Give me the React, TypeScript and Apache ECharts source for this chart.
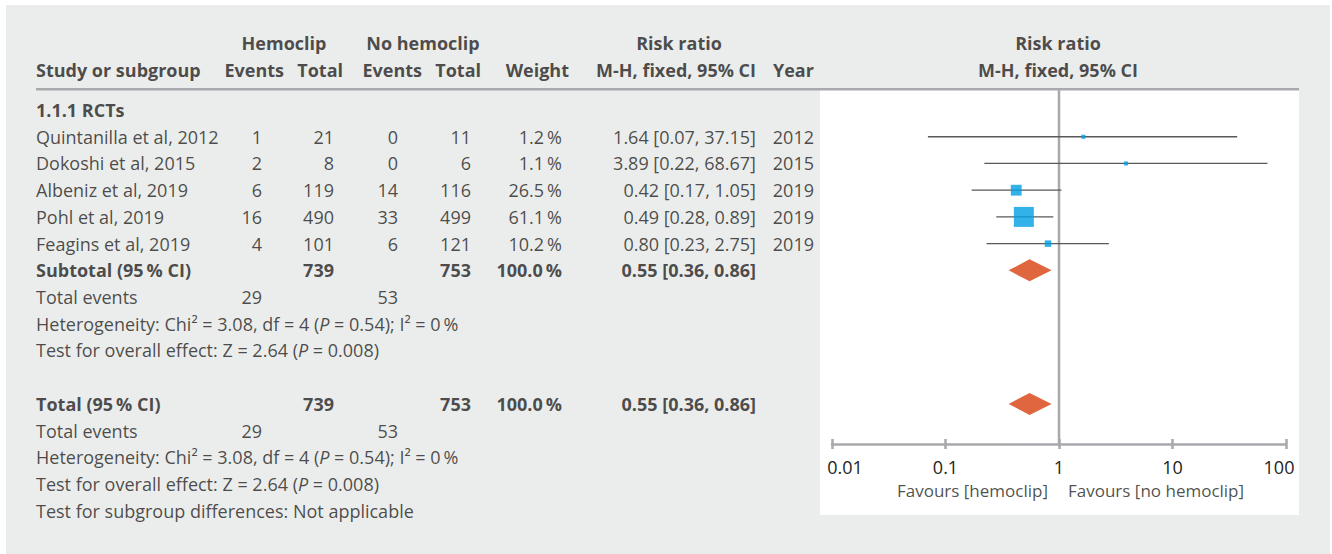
import React, { useEffect, useRef } from "react";
import * as echarts from "echarts";

// ---------- data ----------
const studies = [
  "Quintanilla et al, 2012",
  "Dokoshi et al, 2015",
  "Albeniz et al, 2019",
  "Pohl et al, 2019",
  "Feagins et al, 2019",
];
const hemoEvents = [1, 2, 6, 16, 4];
const hemoTotal = [21, 8, 119, 490, 101];
const noEvents = [0, 0, 14, 33, 6];
const noTotal = [11, 6, 116, 499, 121];
const weights = [1.2, 1.1, 26.5, 61.1, 10.2];
const rr = [1.64, 3.89, 0.42, 0.49, 0.8];
const rrLo = [0.07, 0.22, 0.17, 0.28, 0.23];
const rrHi = [37.15, 68.67, 1.05, 0.89, 2.75];
const years = [2012, 2015, 2019, 2019, 2019];

const pooledRR = 0.55;
const pooledLo = 0.36;
const pooledHi = 0.86;
const pooledWeight = 100.0;
const hemoTotalSum = 739;
const noTotalSum = 753;
const hemoEventsSum = 29;
const noEventsSum = 53;
const heteroText = "Heterogeneity: Chi² = 3.08, df = 4 ({i|P} = 0.54); I² = 0\u2009%";
const overallText = "Test for overall effect: Z = 2.64 ({i|P} = 0.008)";
const subgroupText = "Test for subgroup differences: Not applicable";
const tickLabels = ["0.01", "0.1", "1", "10", "100"];

// ---------- layout constants ----------
const FONT = "Open Sans";
const FS = 18;
const TXT = "#231f20";
const GRAYLINE = "#a7a9ac";
const ROW0_Y = 110;
const ROW_H = 354 / 13.25;

const COL = {
  name: 36,
  hEv: 262,
  hTot: 334,
  nEv: 398,
  nTot: 471,
  w: 562,
  rr: 756,
  year: 814,
};

type Align = "l" | "r" | "c";
function cell(x: number, r: number, text: string, align: Align, bold = false, size = FS) {
  const position = align === "r" ? "left" : align === "l" ? "right" : "inside";
  return {
    value: [x, r],
    label: {
      show: true,
      position,
      distance: 0,
      formatter: text,
      fontFamily: FONT,
      fontSize: size,
      fontWeight: bold ? "bold" : "normal",
      color: TXT,
      rich: {
        i: { fontStyle: "italic", fontFamily: FONT, fontSize: size, color: TXT },
      },
    },
  };
}

const fmt2 = (v: number) => v.toFixed(2);
const rrText = (a: number, b: number, c: number) => `${fmt2(a)} [${fmt2(b)}, ${fmt2(c)}]`;

function buildCells() {
  const cells: any[] = [];
  // headers
  cells.push(cell(284, -2.5, "Hemoclip", "c", true));
  cells.push(cell(423, -2.5, "No hemoclip", "c", true));
  cells.push(cell(679, -2.5, "Risk ratio", "c", true));
  cells.push(cell(1058, -2.5, "Risk ratio", "c", true));
  cells.push(cell(COL.name, -1.5, "Study or subgroup", "l", true));
  cells.push(cell(284, -1.5, "Events", "r", true));
  cells.push(cell(343, -1.5, "Total", "r", true));
  cells.push(cell(422, -1.5, "Events", "r", true));
  cells.push(cell(481, -1.5, "Total", "r", true));
  cells.push(cell(569, -1.5, "Weight", "r", true));
  cells.push(cell(756, -1.5, "M-H, fixed, 95% CI", "r", true));
  cells.push(cell(773, -1.5, "Year", "l", true));
  cells.push(cell(1058, -1.5, "M-H, fixed, 95% CI", "c", true));

  cells.push(cell(COL.name, 0, "1.1.1 RCTs", "l", true));
  studies.forEach((s, i) => {
    const r = i + 1;
    cells.push(cell(COL.name, r, s, "l"));
    cells.push(cell(COL.hEv, r, String(hemoEvents[i]), "r"));
    cells.push(cell(COL.hTot, r, String(hemoTotal[i]), "r"));
    cells.push(cell(COL.nEv, r, String(noEvents[i]), "r"));
    cells.push(cell(COL.nTot, r, String(noTotal[i]), "r"));
    cells.push(cell(COL.w, r, `${weights[i].toFixed(1)}\u2009%`, "r"));
    cells.push(cell(COL.rr, r, rrText(rr[i], rrLo[i], rrHi[i]), "r"));
    cells.push(cell(COL.year, r, String(years[i]), "r"));
  });

  const block = (r: number, title: string) => {
    cells.push(cell(COL.name, r, title, "l", true));
    cells.push(cell(COL.hTot, r, String(hemoTotalSum), "r", true));
    cells.push(cell(COL.nTot, r, String(noTotalSum), "r", true));
    cells.push(cell(COL.w, r, `${pooledWeight.toFixed(1)}\u2009%`, "r", true));
    cells.push(cell(COL.rr, r, rrText(pooledRR, pooledLo, pooledHi), "r", true));
    cells.push(cell(COL.name, r + 1, "Total events", "l"));
    cells.push(cell(COL.hEv, r + 1, String(hemoEventsSum), "r"));
    cells.push(cell(COL.nEv, r + 1, String(noEventsSum), "r"));
    cells.push(cell(COL.name, r + 2, heteroText, "l"));
    cells.push(cell(COL.name, r + 3, overallText, "l"));
  };
  block(6, "Subtotal (95\u2009% CI)");
  block(11, "Total (95\u2009% CI)");
  cells.push(cell(COL.name, 15, subgroupText, "l"));

  const favRow = (490 - ROW0_Y) / ROW_H;
  cells.push(cell(1048, favRow, "Favours [hemoclip]", "r", false, 17));
  cells.push(cell(1068, favRow, "Favours [no hemoclip]", "l", false, 17));
  return cells;
}

export default function App() {
  const ref = useRef<HTMLDivElement>(null);
  useEffect(() => {
    if (!ref.current) return;
    const chart = echarts.init(ref.current, null, { renderer: "svg", width: 1332, height: 554 });

    const studyRows = studies.map((_, i) => i + 1);
    const ciData = studies.map((_, i) => [rrLo[i], rrHi[i], studyRows[i]]);
    const squareData = studies.map((_, i) => ({
      value: [rr[i], studyRows[i]],
      symbolSize: 3.8 + 0.265 * weights[i],
    }));
    const diamondData = [
      [pooledRR, pooledLo, pooledHi, 6],
      [pooledRR, pooledLo, pooledHi, 11],
    ];

    const textTop = ROW0_Y - 3 * ROW_H;
    const textHeight = 18.5 * ROW_H;

    const tickFmt = (v: number) => {
      const lg = Math.round(Math.log10(v));
      const t = tickLabels[lg + 2] ?? String(v);
      if (lg === -2) return `{first|${t}}`;
      if (lg === 2) return `{last|${t}}`;
      return t;
    };

    const option: any = {
      animation: false,
      backgroundColor: "#ffffff",
      graphic: [
        { type: "rect", z: -20, silent: true, shape: { x: 6, y: 5, width: 1324, height: 549 }, style: { fill: "#ebecec" } },
        { type: "rect", z: -10, silent: true, shape: { x: 820, y: 90, width: 479, height: 425 }, style: { fill: "#ffffff" } },
        { type: "rect", z: -5, silent: true, shape: { x: 36, y: 88, width: 1263, height: 2.6 }, style: { fill: GRAYLINE } },
      ],
      grid: [
        { left: 0, width: 1332, top: textTop, height: textHeight, containLabel: false },
        { left: 832, width: 454, top: 90, height: 354, containLabel: false },
      ],
      xAxis: [
        { type: "value", gridIndex: 0, min: 0, max: 1332, show: false },
        {
          type: "log",
          gridIndex: 1,
          logBase: 10,
          min: 0.01,
          max: 100,
          position: "bottom",
          axisLine: { show: true, onZero: false, lineStyle: { color: GRAYLINE, width: 2.5 } },
          axisTick: { show: true, inside: false, length: 5, lineStyle: { color: GRAYLINE, width: 2.5 } },
          axisLabel: {
            show: true,
            margin: 14,
            fontFamily: FONT,
            fontSize: FS,
            color: TXT,
            formatter: tickFmt,
            rich: {
              first: { fontFamily: FONT, fontSize: FS, color: TXT, padding: [0, 0, 0, 26] },
              last: { fontFamily: FONT, fontSize: FS, color: TXT, padding: [0, 14, 0, 0] },
            },
          },
          splitLine: { show: false },
          minorTick: { show: false },
        },
        {
          type: "log",
          gridIndex: 1,
          logBase: 10,
          min: 0.01,
          max: 100,
          position: "bottom",
          offset: 0,
          axisLine: { show: false, onZero: false },
          axisTick: { show: true, inside: true, length: 5, lineStyle: { color: GRAYLINE, width: 2.5 } },
          axisLabel: { show: false },
          splitLine: { show: false },
        },
      ],
      yAxis: [
        { type: "value", gridIndex: 0, min: -3, max: 15.5, inverse: true, show: false },
        { type: "value", gridIndex: 1, min: -0.75, max: 12.5, inverse: true, show: false },
      ],
      series: [
        {
          type: "scatter",
          xAxisIndex: 0,
          yAxisIndex: 0,
          symbolSize: 0,
          silent: true,
          clip: false,
          data: buildCells(),
          z: 5,
        },
        {
          type: "line",
          xAxisIndex: 1,
          yAxisIndex: 1,
          data: [[1, -0.75], [1, 12.5]],
          symbol: "none",
          silent: true,
          lineStyle: { color: GRAYLINE, width: 2.5 },
          z: 1,
        },
        {
          type: "custom",
          xAxisIndex: 1,
          yAxisIndex: 1,
          silent: true,
          data: ciData,
          encode: { x: [0, 1], y: 2 },
          renderItem: (params: any, api: any) => {
            const p1 = api.coord([api.value(0), api.value(2)]);
            const p2 = api.coord([api.value(1), api.value(2)]);
            return {
              type: "line",
              shape: { x1: p1[0], y1: p1[1], x2: p2[0], y2: p2[1] },
              style: { stroke: "#595959", lineWidth: 1.3 },
            };
          },
          z: 2,
        },
        {
          type: "scatter",
          xAxisIndex: 1,
          yAxisIndex: 1,
          silent: true,
          symbol: "rect",
          itemStyle: { color: "#009fe3" },
          data: squareData,
          z: 3,
        },
        {
          type: "custom",
          xAxisIndex: 1,
          yAxisIndex: 1,
          silent: true,
          data: diamondData,
          encode: { x: [0, 1, 2], y: 3 },
          renderItem: (params: any, api: any) => {
            const r = api.value(3);
            const c = api.coord([api.value(0), r]);
            const l = api.coord([api.value(1), r]);
            const h = api.coord([api.value(2), r]);
            const half = 11;
            return {
              type: "polygon",
              shape: { points: [[l[0], c[1]], [c[0], c[1] - half], [h[0], c[1]], [c[0], c[1] + half]] },
              style: { fill: "#df663f" },
            };
          },
          z: 3,
        },
      ],
    };
    chart.setOption(option);
    return () => chart.dispose();
  }, []);
  return <div ref={ref} style={{ position: "fixed", left: 0, top: 0, width: 1332, height: 554 }} />;
}
